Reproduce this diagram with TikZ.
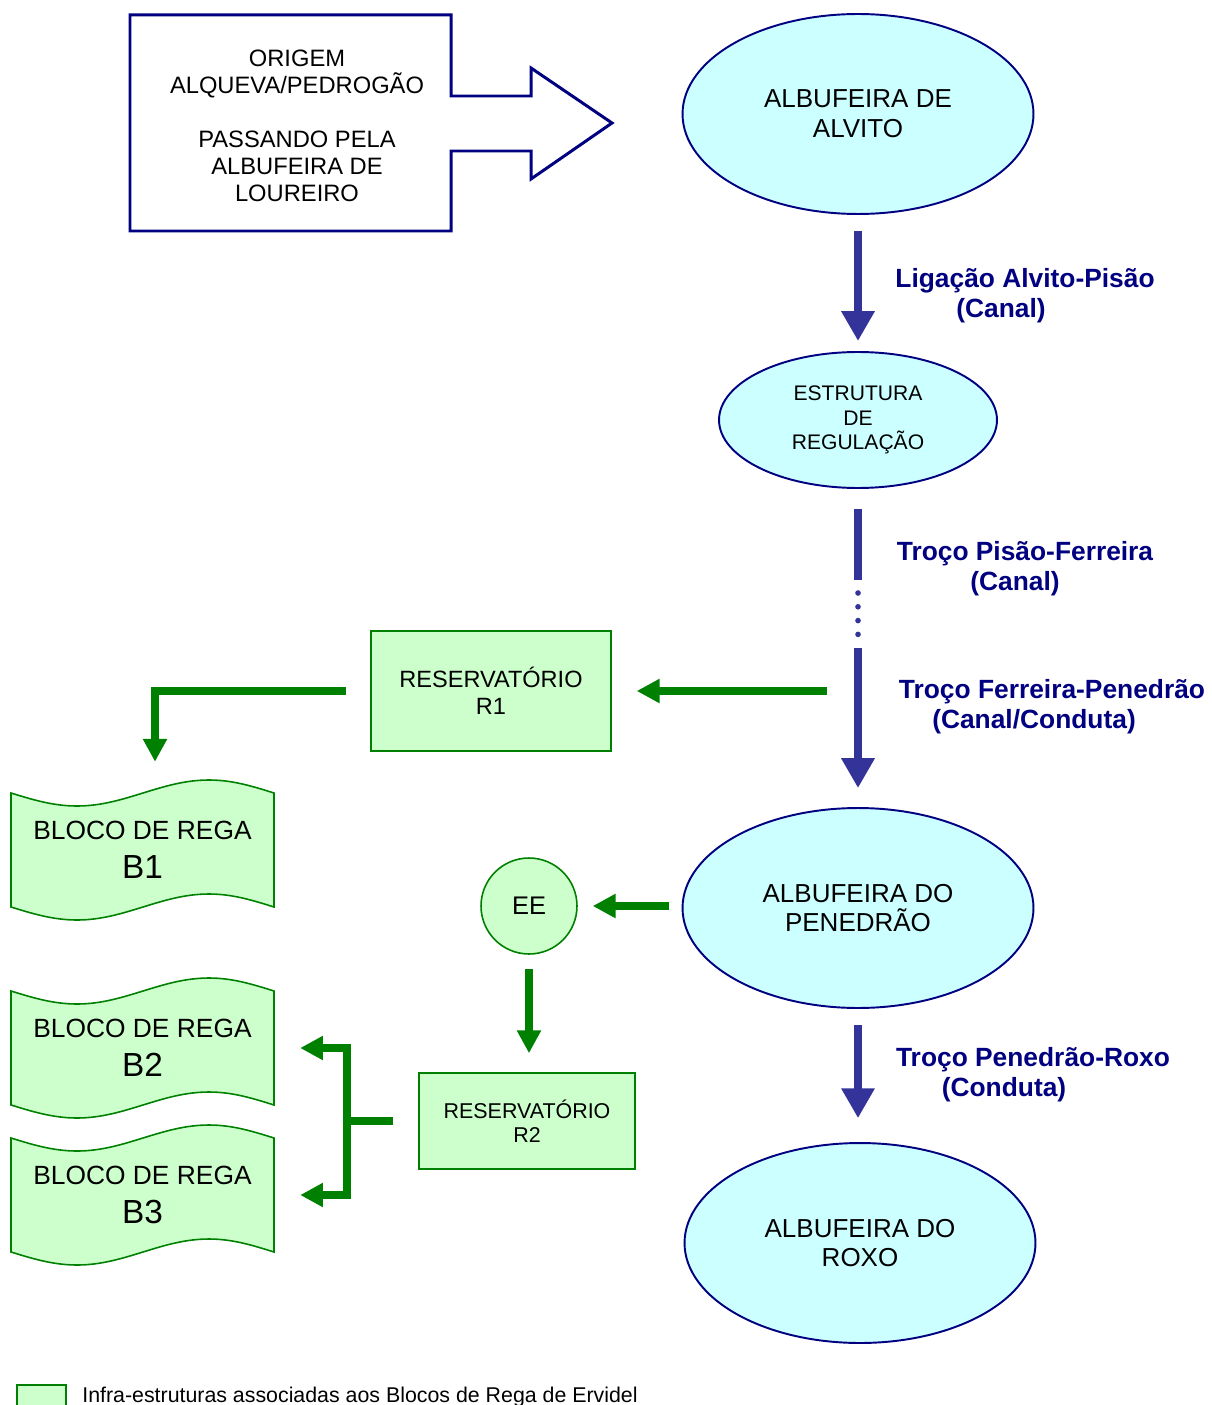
\documentclass[tikz,border=0pt]{standalone}
\usepackage{fontspec}
\setmainfont{Liberation Sans}
\usetikzlibrary{arrows.meta,shapes.geometric}

\definecolor{navy}{HTML}{000080}
\definecolor{azul}{HTML}{333399}
\definecolor{ciano}{HTML}{CCFFFF}
\definecolor{verde}{HTML}{008000}
\definecolor{verdeclaro}{HTML}{CCFFCC}

\tikzset{
  albufeira/.style={ellipse,draw=navy,line width=1.1pt,fill=ciano,inner sep=0pt,
    align=center,font=\fontsize{14.8}{17}\selectfont},
  reservatorio/.style={rectangle,draw=verde,line width=0.9pt,fill=verdeclaro,
    inner sep=0pt,align=center},
  bloco/.style={minimum width=5.26cm,minimum height=2.28cm,inner sep=0pt,
    align=center,font=\fontsize{15}{22}\selectfont},
  canal/.style={azul,line width=5.1pt,-{Triangle[length=17pt,width=18pt]}},
  canalfim/.style={azul,line width=5.1pt},
  rega/.style={verde,line width=4.5pt,-{Triangle[length=13pt,width=13pt]}},
  regafim/.style={verde,line width=4.5pt},
  troco/.style={navy,anchor=base,inner sep=0pt,font=\bfseries\fontsize{15}{17}\selectfont}
}

% folha ondulada dos blocos de rega (deslocamento vertical)
\newcommand{\folha}[1]{%
  \draw[verde,line width=0.9pt,fill=verdeclaro,shift={(0,#1)}]
    (11,793) sin (77,806) cos (143,793) sin (209,780) cos (274,793) -- (274,907)
    sin (209,894) cos (143,907) sin (77,920) cos (11,907) -- cycle;}

\begin{document}
\begin{tikzpicture}[x=0.02cm,y=-0.02cm]
  %\draw[gray,very thin] (0,0) grid[xstep=100,ystep=100] (1211,1405);
  \useasboundingbox (0,0) rectangle (1211,1405);

  % origem
  \draw[navy,line width=1.7pt] (130,15) -- (451,15) -- (451,96) -- (531,96) -- (531,68)
    -- (612,123) -- (531,179) -- (531,151) -- (451,151) -- (451,231) -- (130,231) -- cycle;
  \node[align=center,font=\fontsize{13.5}{15.3}\selectfont] (origem) at (297,126)
    {ORIGEM\\ALQUEVA/PEDROGÃO\\[15.3pt]PASSANDO PELA\\ALBUFEIRA DE\\LOUREIRO};

  % albufeiras
  \node[albufeira,minimum width=7.02cm,minimum height=4cm] (alvito) at (858,114)
    {ALBUFEIRA DE\\ALVITO};
  \node[albufeira,minimum width=5.56cm,minimum height=2.72cm,
    font=\fontsize{12}{14}\selectfont] (estrutura) at (858,420) {ESTRUTURA\\DE\\REGULAÇÃO};
  \node[albufeira,minimum width=7.02cm,minimum height=4cm] (penedrao) at (858,908)
    {ALBUFEIRA DO\\PENEDRÃO};
  \node[albufeira,minimum width=7.02cm,minimum height=4cm] (roxo) at (860,1243)
    {ALBUFEIRA DO\\ROXO};

  % blocos de rega de Ervidel
  \node[reservatorio,minimum width=4.8cm,minimum height=2.4cm,
    font=\fontsize{13.4}{15.5}\selectfont] (r1) at (491,691) {RESERVATÓRIO\\R1};
  \node[reservatorio,minimum width=4.32cm,minimum height=1.92cm,
    font=\fontsize{12.2}{14}\selectfont] (r2) at (527,1121) {RESERVATÓRIO\\R2};
  \node[circle,draw=verde,line width=0.9pt,fill=verdeclaro,minimum size=1.92cm,inner sep=0pt,
    font=\fontsize{14.5}{16}\selectfont] (ee) at (529,906) {EE};

  \folha{0}
  \folha{198}
  \folha{345}
  \node[bloco] (b1) at (142.5,850) {BLOCO DE REGA\\{\fontsize{19}{19}\selectfont B1}};
  \node[bloco] (b2) at (142.5,1048) {BLOCO DE REGA\\{\fontsize{19}{19}\selectfont B2}};
  \node[bloco] (b3) at (142.5,1195) {BLOCO DE REGA\\{\fontsize{19}{19}\selectfont B3}};

  % canais e condutas
  \coordinate (pisao) at (858,580);
  \coordinate (ferreira) at (858,648);
  \coordinate (tomada) at (858,691);
  \coordinate (ramal) at (347,1121);

  \draw[canal,shorten <=9pt,shorten >=5.7pt] (alvito) -- (estrutura);
  \draw[canalfim,shorten <=11.3pt] (estrutura) -- (pisao);
  \draw[azul,line width=3.2pt,line cap=round,dash pattern=on 0pt off 7.85pt,
    shorten <=7.4pt,shorten >=7.4pt] (pisao) -- (ferreira);
  \draw[canal,shorten >=10.8pt] (ferreira) -- (penedrao);
  \draw[canal,shorten <=9pt,shorten >=13.6pt] (penedrao) -- (penedrao |- roxo.north);

  \draw[rega,shorten <=17.6pt,shorten >=14.2pt] (tomada) -- (r1);
  \draw[rega,shorten <=13.6pt,shorten >=17.6pt] (r1.west) -| ([xshift=0.25cm]b1.north);
  \draw[rega,shorten <=7.4pt,shorten >=8.5pt] (penedrao.west |- ee) -- (ee);
  \draw[rega,shorten <=7.9pt,shorten >=10.8pt] (ee) -- (ee |- r2.north);
  \draw[regafim,shorten <=14.2pt] (r2.west) -- (ramal);
  \draw[rega,shorten >=14.7pt] (ramal) |- (b2.east);
  \draw[rega,shorten >=14.7pt] (ramal) |- (b3.east);

  \node[troco] (t1) at (1025,288) {Ligação Alvito-Pisão};
  \node[troco] (t1b) at (1001,318) {(Canal)};
  \node[troco] (t2) at (1025,560) {Troço Pisão-Ferreira};
  \node[troco] (t2b) at (1015,590) {(Canal)};
  \node[troco] (t3) at (1052,698) {Troço Ferreira-Penedrão};
  \node[troco] (t3b) at (1034,728) {(Canal/Conduta)};
  \node[troco] (t4) at (1033,1066) {Troço Penedrão-Roxo};
  \node[troco] (t4b) at (1004,1096) {(Conduta)};

  % legenda
  \draw[verde,line width=0.9pt,fill=verdeclaro] (17,1385) rectangle (66,1412);
  \node[anchor=base west,inner sep=0pt,font=\fontsize{12.15}{14}\selectfont] (legenda) at (82,1402)
    {Infra-estruturas associadas aos Blocos de Rega de Ervidel};
\end{tikzpicture}
\end{document}
